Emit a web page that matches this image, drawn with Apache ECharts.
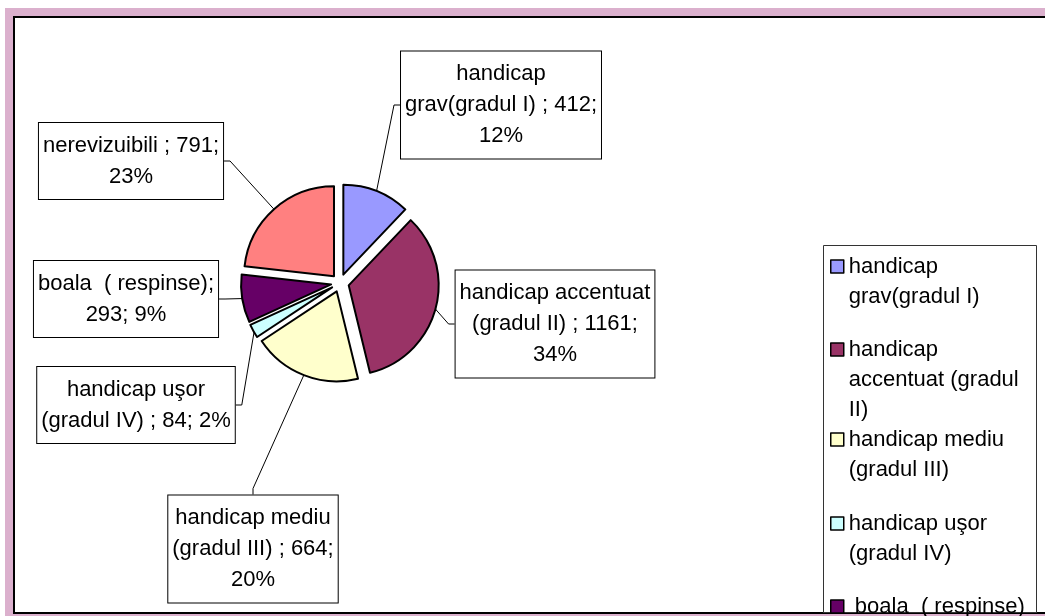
<!DOCTYPE html>
<html>
<head>
<meta charset="utf-8">
<title>pie</title>
<script src="https://cdn.jsdelivr.net/npm/echarts@6/dist/echarts.min.js"></script>
<style>
html, body { margin: 0; padding: 0; background: #fff; }
#pie { width: 1045px; height: 616px; }
</style>
</head>
<body>
<div id="pie"></div>
<script>
// date
var categories = ['handicap grav(gradul I)', 'handicap accentuat (gradul II)', 'handicap mediu (gradul III)',
    'handicap uşor (gradul IV)', 'boala  ( respinse)', 'nerevizuibili'];
var counts = [412, 1161, 664, 84, 293, 791];
var colors = ['#9999FF', '#993366', '#FFFFCC', '#CCFFFF', '#660066', '#FF8080'];

// etichete (text + rupere de rand)
var labelText = [
    'handicap\ngrav(gradul I) ; {c};\n{d}%',
    'handicap accentuat\n(gradul II) ; {c};\n{d}%',
    'handicap mediu\n(gradul III) ; {c};\n{d}%',
    'handicap uşor\n(gradul IV) ; {c}; {d}%',
    'boala  ( respinse);\n{c}; {d}%',
    'nerevizuibili ; {c};\n{d}%'
];
var legendText = [
    'handicap\ngrav(gradul I)',
    'handicap\naccentuat (gradul\nII)',
    'handicap mediu\n(gradul III)',
    'handicap uşor\n(gradul IV)',
    ' boala  ( respinse)'
];
// centrul fiecarei casete
var labelPos = [[501, 105], [555, 324], [253, 549], [136, 405], [126, 299], [131, 161]];
var legendTop = [260, 343, 433, 517, 600];

var font = "'Liberation Sans', Arial, sans-serif";

var pieData = [], labelData = [];
for (var i = 0; i < categories.length; i++) {
    pieData.push({
        name: categories[i],
        value: counts[i],
        selected: true,
        itemStyle: { color: colors[i] }
    });
    labelData.push({
        name: categories[i],
        value: counts[i],
        label: { formatter: labelText[i] }
    });
}

// legenda: cate una pe element, patratul aliniat cu primul rand
var legends = [];
for (var k = 0; k < legendText.length; k++) {
    var lines = legendText[k].split('\n').length;
    var h = 13 + 30 * (lines - 1);
    legends.push({
        orient: 'vertical',
        left: 830,
        top: legendTop[k] - 8.5,
        padding: 0,
        itemWidth: 13,
        itemHeight: h,
        selectedMode: false,
        textStyle: { fontFamily: font, fontSize: 22, lineHeight: 30, color: '#000' },
        formatter: (function (t) { return function () { return t; }; })(legendText[k]),
        data: [{
            name: categories[k],
            icon: 'path://M0,0h13v13h-13zM0,' + h + 'h0',
            itemStyle: { color: colors[k], borderColor: '#000', borderWidth: 1.5 }
        }]
    });
}

var pie = echarts.init(document.getElementById('pie'));
pie.setOption({
    animation: false,
    backgroundColor: '#fff',
    graphic: [
        { type: 'rect', z: -10, shape: { x: 5, y: 8, width: 1045, height: 616 }, style: { fill: '#dbb0cd' } },
        { type: 'rect', z: -9, shape: { x: 14, y: 17, width: 1040, height: 596 }, style: { fill: '#fff', stroke: '#000', lineWidth: 2 } },
        { type: 'rect', z: -8, shape: { x: 823.5, y: 245.5, width: 213, height: 367 }, style: { fill: '#fff', stroke: '#333', lineWidth: 1 } }
    ],
    legend: legends,
    series: [{
        type: 'pie',
        center: [340, 283],
        radius: 90,
        startAngle: 90,
        clockwise: true,
        selectedMode: 'multiple',
        selectedOffset: 9,
        emphasis: { disabled: true },
        itemStyle: { borderColor: '#000', borderWidth: 2 },
        label: { show: false },
        labelLine: { show: false },
        data: pieData
    }, {
        // doar etichetele
        type: 'pie',
        center: [340, 283],
        radius: 98,
        startAngle: 90,
        clockwise: true,
        silent: true,
        percentPrecision: 0,
        avoidLabelOverlap: false,
        emphasis: { disabled: true },
        itemStyle: { color: 'transparent', borderWidth: 0 },
        label: {
            show: true,
            position: 'outside',
            fontFamily: font,
            fontSize: 22,
            lineHeight: 31,
            color: '#000',
            align: 'center',
            backgroundColor: '#fff',
            borderColor: '#000',
            borderWidth: 1,
            padding: [7, 4, 7, 4]
        },
        labelLine: {
            show: true,
            length: 10,
            length2: 6,
            lineStyle: { color: '#000', width: 1 }
        },
        labelLayout: function (params) {
            var p = labelPos[params.dataIndex];
            return { x: p[0], y: p[1], align: 'center', verticalAlign: 'middle' };
        },
        data: labelData
    }]
});
</script>
</body>
</html>
